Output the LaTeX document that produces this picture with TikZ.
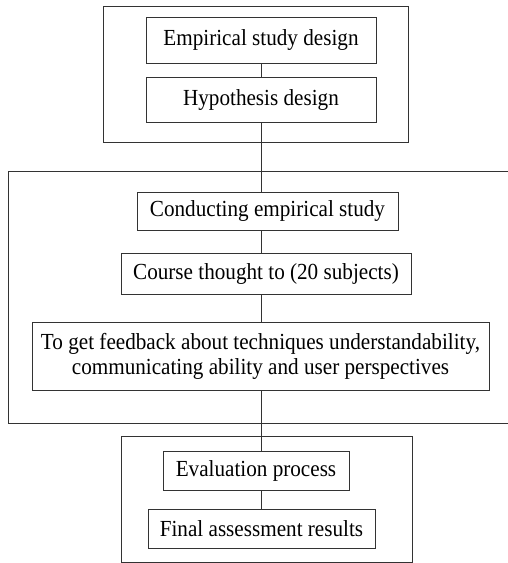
\documentclass[tikz,border=0pt]{standalone}
\usepackage{fontspec}
\setmainfont[FakeStretch=0.92]{Liberation Serif}
\begin{document}
\begin{tikzpicture}[x=1pt,y=-1pt,
  box/.style={draw=black!80,line width=1pt,inner sep=0pt,align=center,
    font=\fontsize{23}{25}\selectfont},
  frame/.style={draw=black!80,line width=1pt},
  link/.style={draw=black!80,line width=1pt}]
\useasboundingbox (0,0) rectangle (508,563);
% outer frames
\node[frame,minimum width=305pt,minimum height=136pt,inner sep=0pt] (g1) at (255.5,74) {};
\node[frame,minimum width=291pt,minimum height=126pt,inner sep=0pt] (g3) at (266.5,499) {};
\coordinate (g2tr) at (510,171);
\coordinate (g2tl) at (8,171);
\coordinate (g2bl) at (8,423);
\coordinate (g2br) at (510,423);
\draw[frame] (g2tr) -- (g2tl) -- (g2bl) -- (g2br);
% boxes
\node[box,minimum width=230pt,minimum height=46pt] (emp) at (261,40) {Empirical study design};
\node[box,minimum width=230pt,minimum height=45pt] (hyp) at (261,99.5) {Hypothesis design};
\node[box,minimum width=261pt,minimum height=38pt] (con) at (267.5,211) {Conducting empirical study};
\node[box,minimum width=290pt,minimum height=41pt] (cou) at (266,273.5) {Course thought to (20 subjects)};
\node[box,minimum width=457pt,minimum height=68pt] (fb) at (260.5,356) {To get feedback about techniques understandability,\\communicating ability and user perspectives};
\node[box,minimum width=186pt,minimum height=39pt] (ev) at (256,470.5) {Evaluation process};
\node[box,minimum width=227pt,minimum height=39pt] (fin) at (261.5,528.5) {Final assessment results};
% connectors
\draw[link] (emp.south) -- (emp.south |- hyp.north);
\draw[link] (hyp.south) -- (hyp.south |- con.north);
\draw[link] (con.south -| hyp.south) -- (cou.north -| hyp.south);
\draw[link] (cou.south -| hyp.south) -- (fb.north -| hyp.south);
\draw[link] (fb.south -| hyp.south) -- (ev.north -| hyp.south);
\draw[link] (ev.south -| hyp.south) -- (fin.north -| hyp.south);
\end{tikzpicture}
\end{document}
